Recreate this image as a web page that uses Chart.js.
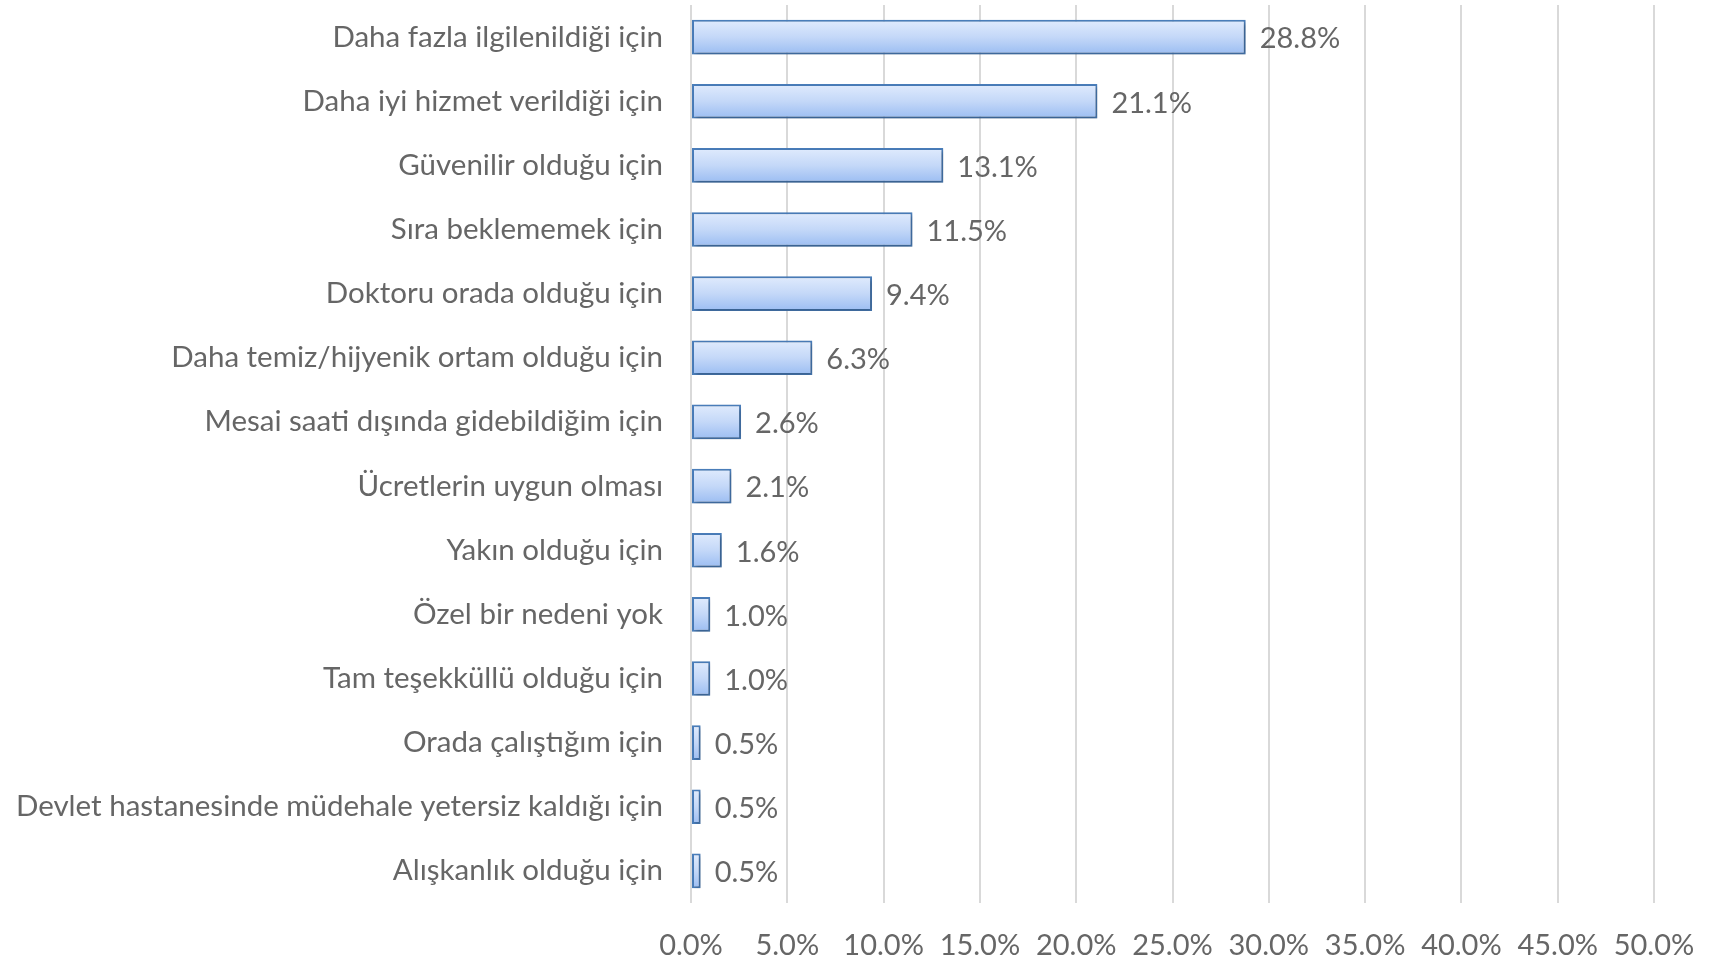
<!DOCTYPE html>
<html>
<head>
<meta charset="utf-8">
<script src="https://cdn.jsdelivr.net/npm/chart.js@4.4.1/dist/chart.umd.min.js"></script>
<style>
  html, body { margin: 0; padding: 0; background: #fff; }
  #wrap { width: 1709px; height: 962px; }
</style>
</head>
<body>
<div id="wrap"><canvas id="reasonsChart"></canvas></div>
<script>
// Reasons (top to bottom) and their shares in percent
const reasons = [
    'Daha fazla ilgilenildiği için',
    'Daha iyi hizmet verildiği için',
    'Güvenilir olduğu için',
    'Sıra beklememek için',
    'Doktoru orada olduğu için',
    'Daha temiz/hijyenik ortam olduğu için',
    'Mesai saati dışında gidebildiğim için',
    'Ücretlerin uygun olması',
    'Yakın olduğu için',
    'Özel bir nedeni yok',
    'Tam teşekküllü olduğu için',
    'Orada çalıştığım için',
    'Devlet hastanesinde müdehale yetersiz kaldığı için',
    'Alışkanlık olduğu için'
];
const shares = [28.8, 21.1, 13.1, 11.5, 9.4, 6.3, 2.6, 2.1, 1.6, 1.0, 1.0, 0.5, 0.5, 0.5];
const axisMax = 50;
const axisStep = 5;

const fontFamily = "Lato, 'Noto Sans', sans-serif";
const textColor = '#666666';

// Vertical gradient per bar, like the Excel preset fill
function barGradient(context) {
    const chart = context.chart;
    const yScale = chart.scales.y;
    if (!chart.chartArea || !yScale) return '#c6d9f7';
    const center = yScale.getPixelForValue(context.dataIndex);
    const half = (yScale.height / reasons.length) * 0.27;
    const g = chart.ctx.createLinearGradient(0, center - half, 0, center + half);
    g.addColorStop(0, '#e0ebfd');
    g.addColorStop(0.5, '#c4d8f8');
    g.addColorStop(1, '#9bbdf2');
    return g;
}

// Soft shadow under the bars
const barShadow = {
    id: 'barShadow',
    beforeDatasetsDraw(chart) {
        const ctx = chart.ctx;
        ctx.save();
        ctx.shadowColor = 'rgba(0,0,0,0.28)';
        ctx.shadowBlur = 4;
        ctx.shadowOffsetX = 2;
        ctx.shadowOffsetY = 2;
    },
    afterDatasetsDraw(chart) {
        chart.ctx.restore();
    }
};

// Value labels to the right of each bar
const valueLabels = {
    id: 'valueLabels',
    afterDatasetsDraw(chart) {
        const ctx = chart.ctx;
        const meta = chart.getDatasetMeta(0);
        ctx.save();
        ctx.font = '29px ' + fontFamily;
        ctx.fillStyle = textColor;
        ctx.textAlign = 'left';
        ctx.textBaseline = 'middle';
        meta.data.forEach((bar, i) => {
            ctx.fillText(shares[i].toFixed(1) + '%', bar.x + 14, bar.y + 2);
        });
        ctx.restore();
    }
};

function initializeReasonsChart() {
    const ctx = document.getElementById('reasonsChart').getContext('2d');
    return new Chart(ctx, {
        type: 'bar',
        data: {
            labels: reasons,
            datasets: [{
                data: shares,
                backgroundColor: barGradient,
                borderColor: '#4a7ebb',
                borderWidth: 2,
                borderSkipped: false,
                categoryPercentage: 1.0,
                barPercentage: 0.54
            }]
        },
        options: {
            indexAxis: 'y',
            responsive: true,
            maintainAspectRatio: false,
            animation: false,
            layout: {
                padding: { top: 5, right: 55, bottom: 0, left: 0 }
            },
            plugins: {
                legend: { display: false },
                tooltip: { enabled: false }
            },
            scales: {
                x: {
                    min: 0,
                    max: axisMax,
                    ticks: {
                        stepSize: axisStep,
                        padding: 25,
                        color: textColor,
                        font: { family: fontFamily, size: 29 },
                        maxRotation: 0,
                        callback: v => v.toFixed(1) + '%'
                    },
                    grid: {
                        color: '#d9d9d9',
                        lineWidth: 2,
                        drawTicks: false
                    },
                    border: { display: false },
                    afterFit(scale) {
                        scale.height = 59;
                        scale.paddingLeft = 0;
                        scale.paddingRight = 0;
                    }
                },
                y: {
                    ticks: {
                        padding: 28,
                        color: textColor,
                        font: { family: fontFamily, size: 29.5 }
                    },
                    grid: { display: false, drawTicks: false },
                    border: { display: false },
                    afterFit(scale) {
                        scale.width = 691;
                        scale.paddingTop = 0;
                        scale.paddingBottom = 0;
                    }
                }
            }
        },
        plugins: [barShadow, valueLabels]
    });
}

document.addEventListener('DOMContentLoaded', function() {
    initializeReasonsChart();
});
</script>
</body>
</html>
